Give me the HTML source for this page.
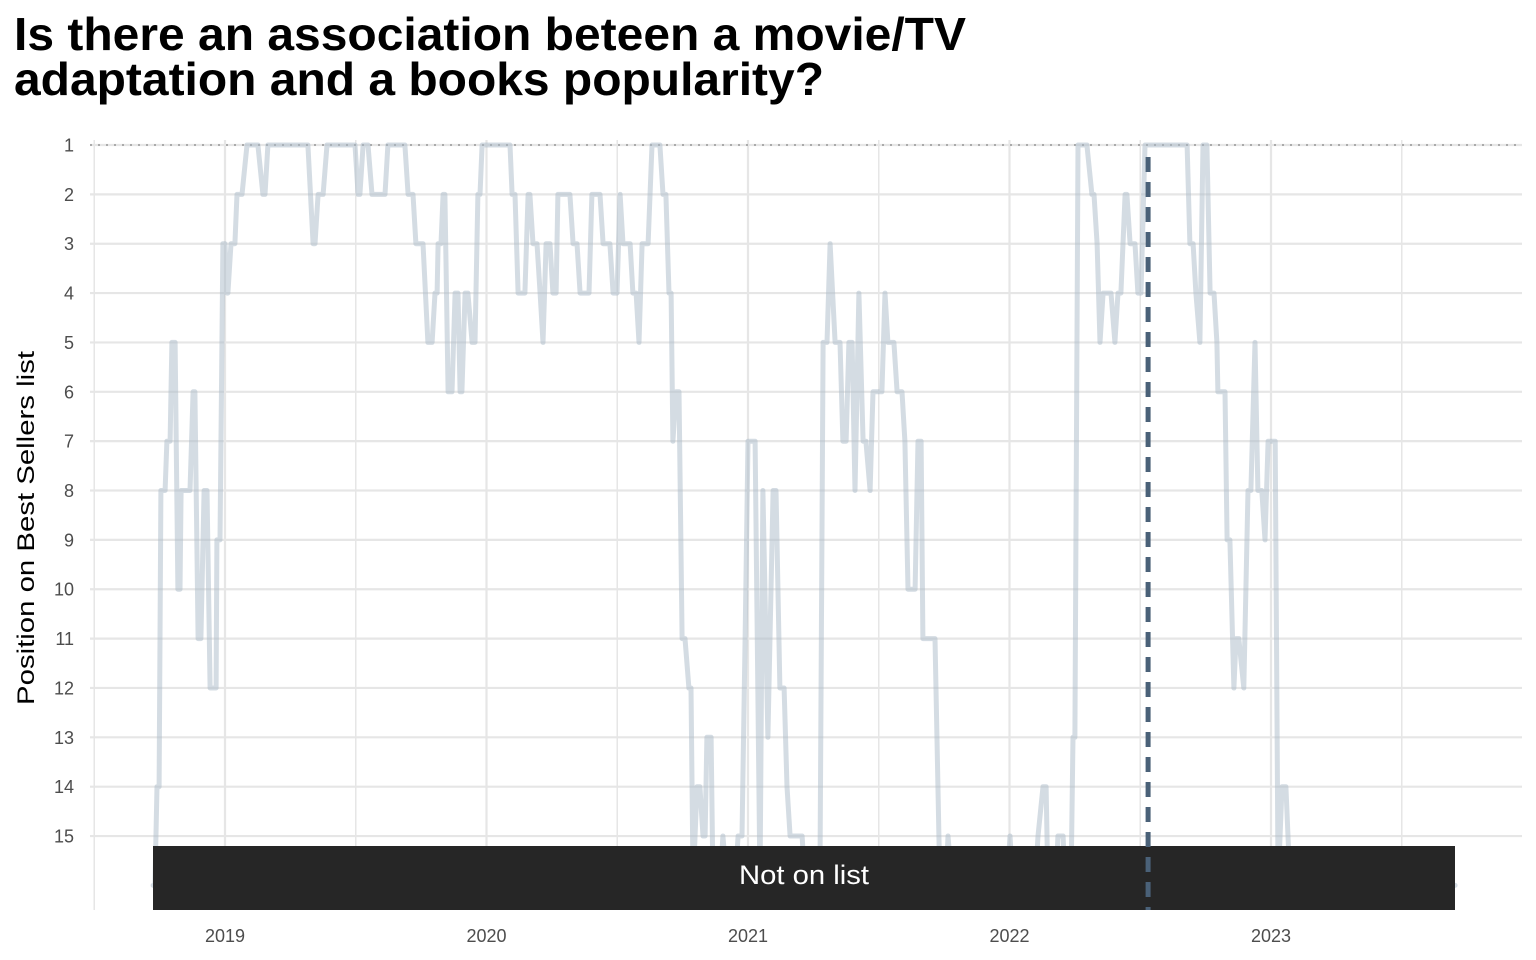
<!DOCTYPE html>
<html><head><meta charset="utf-8"><style>
html,body{margin:0;padding:0;background:#fff;}
svg{display:block;font-family:"Liberation Sans",Arial,sans-serif;}
</style></head><body>
<svg id="chart" width="1536" height="960">
<text x="14" y="50" font-size="46" font-weight="bold" fill="#000" textLength="952" lengthAdjust="spacingAndGlyphs">Is there an association beteen a movie/TV</text>
<text x="14" y="95" font-size="46" font-weight="bold" fill="#000" textLength="810" lengthAdjust="spacingAndGlyphs">adaptation and a books popularity?</text>
<text transform="translate(34,528) rotate(-90)" text-anchor="middle" font-size="24" fill="#000" textLength="354" lengthAdjust="spacingAndGlyphs">Position on Best Sellers list</text>
<g id="grid"></g>
<g id="axes"></g>
<g id="series"></g>
<g>
<rect x="153" y="846" width="1302" height="64" fill="#262626"></rect>
<text x="804" y="884" text-anchor="middle" font-size="27" fill="#fff" textLength="130" lengthAdjust="spacingAndGlyphs">Not on list</text>
</g>
<g id="marker"></g>
</svg>
<script>
const dates = [2018.725,2018.732,2018.740,2018.748,2018.755,2018.771,2018.778,2018.790,2018.797,2018.809,2018.820,2018.828,2018.832,2018.866,2018.878,2018.885,2018.897,2018.908,2018.920,2018.931,2018.943,2018.966,2018.969,2018.981,2018.992,2019.000,2019.008,2019.011,2019.023,2019.038,2019.046,2019.065,2019.084,2019.126,2019.145,2019.153,2019.164,2019.317,2019.337,2019.344,2019.356,2019.375,2019.390,2019.497,2019.509,2019.516,2019.528,2019.547,2019.562,2019.612,2019.623,2019.688,2019.700,2019.719,2019.730,2019.757,2019.776,2019.792,2019.803,2019.811,2019.815,2019.826,2019.834,2019.841,2019.853,2019.868,2019.880,2019.891,2019.899,2019.906,2019.918,2019.929,2019.945,2019.956,2019.967,2019.975,2019.983,2020.090,2020.098,2020.109,2020.121,2020.147,2020.159,2020.166,2020.178,2020.193,2020.205,2020.216,2020.228,2020.243,2020.254,2020.266,2020.273,2020.319,2020.331,2020.346,2020.358,2020.392,2020.403,2020.434,2020.446,2020.472,2020.484,2020.499,2020.511,2020.522,2020.549,2020.560,2020.572,2020.583,2020.595,2020.618,2020.633,2020.663,2020.675,2020.686,2020.698,2020.706,2020.713,2020.725,2020.736,2020.748,2020.759,2020.774,2020.782,2020.790,2020.805,2020.816,2020.828,2020.836,2020.843,2020.859,2020.866,2020.893,2020.904,2020.920,2020.950,2020.962,2020.977,2020.989,2021.000,2021.027,2021.046,2021.057,2021.076,2021.096,2021.107,2021.122,2021.138,2021.149,2021.161,2021.207,2021.218,2021.275,2021.287,2021.302,2021.314,2021.333,2021.352,2021.363,2021.375,2021.386,2021.398,2021.409,2021.424,2021.440,2021.451,2021.467,2021.478,2021.512,2021.524,2021.535,2021.558,2021.570,2021.589,2021.600,2021.612,2021.639,2021.650,2021.662,2021.669,2021.715,2021.734,2021.757,2021.765,2021.780,2021.990,2022.002,2022.013,2022.098,2022.109,2022.128,2022.140,2022.147,2022.178,2022.185,2022.205,2022.212,2022.235,2022.243,2022.250,2022.262,2022.296,2022.315,2022.323,2022.335,2022.346,2022.358,2022.388,2022.403,2022.415,2022.426,2022.442,2022.449,2022.461,2022.480,2022.491,2022.503,2022.518,2022.679,2022.690,2022.702,2022.713,2022.728,2022.740,2022.755,2022.767,2022.782,2022.793,2022.797,2022.824,2022.832,2022.843,2022.858,2022.866,2022.877,2022.896,2022.912,2022.923,2022.939,2022.950,2022.965,2022.977,2022.989,2023.016,2023.027,2023.042,2023.057,2023.073,2023.704];
const ranks = [16,16,14,14,8,8,7,7,5,5,10,10,8,8,6,6,11,11,8,8,12,12,9,9,3,3,4,4,3,3,2,2,1,1,2,2,1,1,3,3,2,2,1,1,2,2,1,1,2,2,1,1,2,2,3,3,5,5,4,4,3,3,2,2,6,6,4,4,6,6,4,4,5,5,2,2,1,1,2,2,4,4,2,2,3,3,4,5,3,3,4,4,2,2,3,3,4,4,2,2,3,3,4,4,2,3,3,4,4,5,3,3,1,1,2,2,4,4,7,6,6,11,11,12,12,16,14,14,15,15,13,13,16,16,15,16,16,15,15,11,7,7,16,8,13,8,8,12,12,14,15,15,16,16,5,5,3,5,5,7,7,5,5,8,4,7,7,8,6,6,4,5,5,6,6,7,10,10,7,7,11,11,16,16,15,16,16,15,16,16,15,14,14,16,16,15,15,16,16,13,13,1,1,2,2,3,5,4,4,5,4,4,2,2,3,3,4,4,1,1,3,3,4,5,1,1,4,4,5,6,6,9,9,12,11,11,12,8,8,5,8,8,9,7,7,16,14,14,16,16];
const yTicks = [1,2,3,4,5,6,7,8,9,10,11,12,13,14,15];
const xTicks = [2019,2020,2021,2022,2023];
const adaptationDate = [2022.530];

const NS = "http://www.w3.org/2000/svg";
const X = d => 225 + (d - 2019) * 261.5;
const Y = r => 145 + (r - 1) * 49.36;
function mk(tag, attrs, parent){const e=document.createElementNS(NS,tag);for(const k in attrs)e.setAttribute(k,attrs[k]);parent.appendChild(e);return e;}
const grid=document.getElementById('grid'), axes=document.getElementById('axes'), series=document.getElementById('series'), marker=document.getElementById('marker');
for (let yr = 2018.5; yr <= 2023.5; yr += 0.5) {
  const l = mk('line',{x1:X(yr),x2:X(yr),y1:140,y2:910,stroke:'#e6e6e6','stroke-width':yr%1===0?2.2:1.5},grid);
  
  
}
yTicks.forEach(r=>{
  const l = mk('line',{x1:90,x2:1522,y1:Y(r),y2:Y(r),stroke:'#e6e6e6','stroke-width':2.2},grid);
  
  
  const t = mk('text',{x:74,y:Y(r)+6.5,'text-anchor':'end','font-size':18,fill:'#4d4d4d'},axes);
  t.textContent = r;
  
  
});
xTicks.forEach(yr=>{
  const t = mk('text',{x:X(yr),y:942,'text-anchor':'middle','font-size':18,fill:'#4d4d4d'},axes);
  t.textContent = yr;
  
  
});
const top1 = mk('line',{x1:90,x2:1522,y1:Y(1),y2:Y(1),stroke:'#aaaaaa','stroke-width':2,'stroke-dasharray':'2 6'},grid);


let d='';
dates.forEach((dt,i)=>{d += (i?'L':'M') + X(dt).toFixed(1) + ' ' + Y(ranks[i]).toFixed(1);});
const p = mk('path',{d:d,fill:'none',stroke:'#a9b9c8','stroke-opacity':0.5,'stroke-width':5,'stroke-linejoin':'round','stroke-linecap':'round'},series);


adaptationDate.forEach(dt=>{
  const l = mk('line',{x1:X(dt),x2:X(dt),y1:157,y2:910,stroke:'#4a6178','stroke-width':5,'stroke-dasharray':'15 10'},marker);
  
  
});
</script>
</body></html>
